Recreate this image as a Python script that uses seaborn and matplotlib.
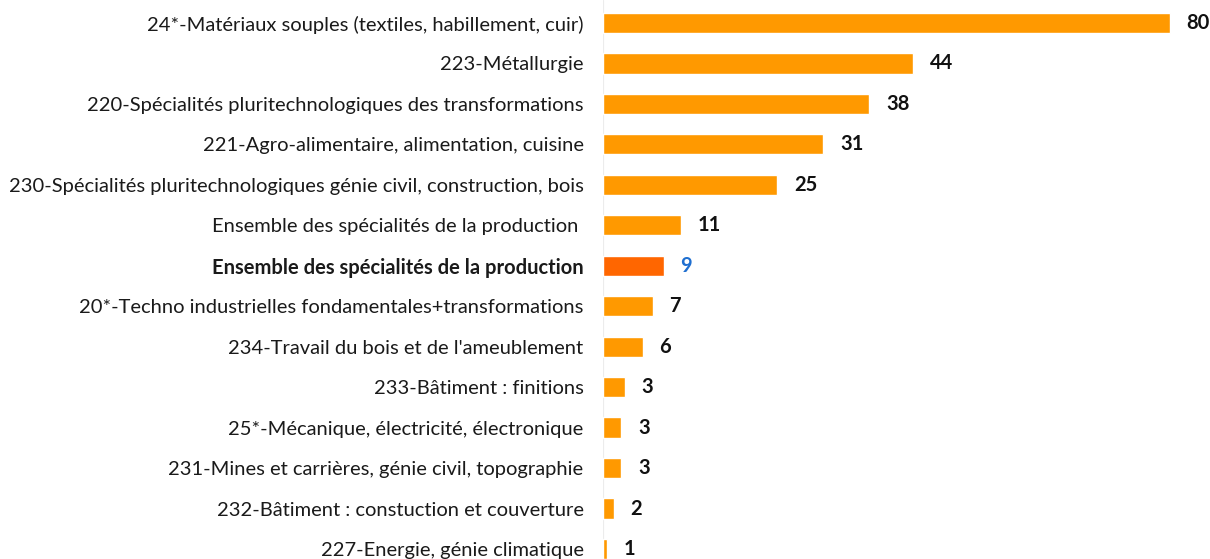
import pandas as pd
import seaborn as sns
import matplotlib.pyplot as plt

# Libellés des spécialités (de haut en bas)
specialites = [
    "24*-Matériaux souples (textiles, habillement, cuir)",
    "223-Métallurgie",
    "220-Spécialités pluritechnologiques des transformations",
    "221-Agro-alimentaire, alimentation, cuisine",
    "230-Spécialités pluritechnologiques génie civil, construction, bois",
    "Ensemble des spécialités de la production ",
    "Ensemble des spécialités de la production",
    "20*-Techno industrielles fondamentales+transformations",
    "234-Travail du bois et de l'ameublement",
    "233-Bâtiment : finitions",
    "25*-Mécanique, électricité, électronique",
    "231-Mines et carrières, génie civil, topographie",
    "232-Bâtiment : constuction et couverture",
    "227-Energie, génie climatique",
]
valeurs = [80, 43.8, 37.6, 31.1, 24.6, 11.0, 8.6, 7.0, 5.6, 3.1, 2.6, 2.6, 1.5, 0.5]
etiquettes = ["80", "44", "38", "31", "25", "11", "9", "7", "6", "3", "3", "3", "2", "1"]
groupe = ["autre"] * 6 + ["total"] + ["autre"] * 7

df = pd.DataFrame({"specialite": specialites, "valeur": valeurs, "groupe": groupe})

sns.set_style("white")
plt.rcParams['font.family'] = ['Lato', 'DejaVu Sans']

fig = plt.figure(figsize=(12.1, 5.59), dpi=100)
ax = fig.add_axes([603 / 1210, 0, 1 - 603 / 1210, 1])

sns.barplot(data=df, x="valeur", y="specialite", hue="groupe",
            palette={"autre": "#FF9900", "total": "#FF6600"},
            saturation=1, dodge=False, width=0.5, legend=False, ax=ax)

ax.set_xlim(0, 80 * 607 / 567)
ax.set_ylim(13.247, -0.568)
ax.set_xlabel("")
ax.set_ylabel("")
ax.set_xticks([])
sns.despine(ax=ax, left=True, bottom=True, top=True, right=True)
ax.axvline(0, color="#ececec", lw=0.8, zorder=0)
ax.tick_params(axis="y", length=0, pad=14, labelsize=14.5, labelcolor="#1a1a1a")

for lab in ax.get_yticklabels():
    if lab.get_position()[1] == 6:
        lab.set_fontweight("bold")

for i, (v, t) in enumerate(zip(valeurs, etiquettes)):
    couleur = "#1F6FD0" if groupe[i] == "total" else "#111111"
    ax.annotate(t, (v, i), xytext=(12, 0), textcoords="offset points",
                ha="left", va="center", fontsize=14.5, fontweight="bold",
                color=couleur)

fig.savefig("out.png", dpi=100)
